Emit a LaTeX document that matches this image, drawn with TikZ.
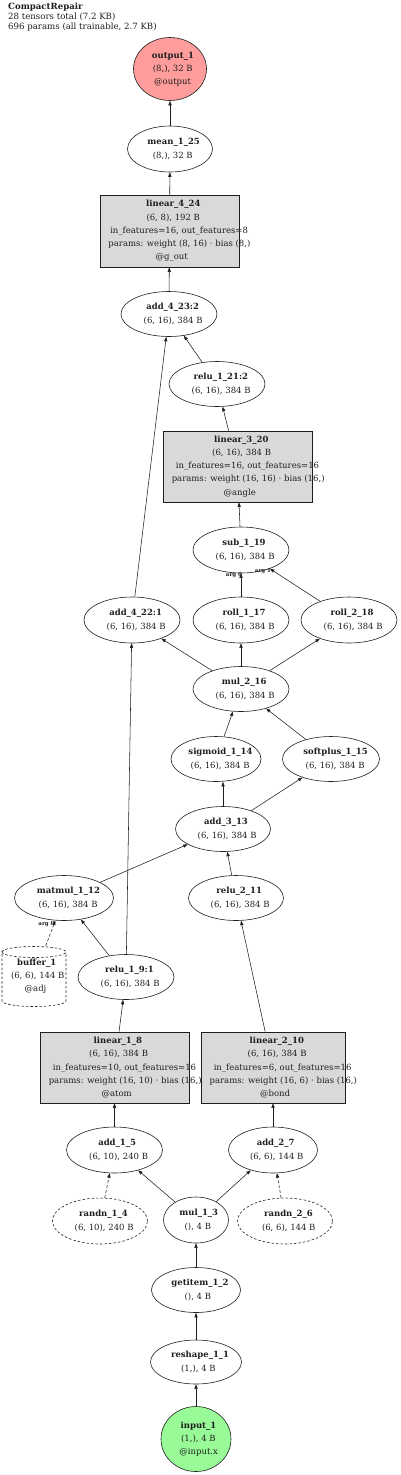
\documentclass[tikz,border=0pt]{standalone}
\usepackage{fontspec}
\setmainfont{DejaVu Serif}
\usetikzlibrary{shapes.geometric,arrows.meta}
\definecolor{outfill}{HTML}{FF9C9C}
\definecolor{infill}{HTML}{98FB98}
\definecolor{linfill}{HTML}{D9D9D9}
\definecolor{ink}{HTML}{1E1E1E}
\newcommand\gl[1]{\makebox[0.86\width][l]{#1}}
\newcommand\gn[7]{%
  \node[#2, minimum width=#5, minimum height=#6] (#1) at (#3,#4) {};
  \node[txt] (#1t) at (#1) {#7};}
\tikzset{
  txt/.style={align=center, inner sep=0pt, text=ink, font=\fontsize{8.5}{13.2}\selectfont},
  opnode/.style={ellipse, draw=ink, line width=0.6pt, inner sep=0pt},
  rnode/.style={ellipse, draw=ink, line width=0.6pt, inner sep=0pt, dashed, dash pattern=on 2.5pt off 2pt},
  outnode/.style={ellipse, draw=ink, fill=outfill, line width=0.6pt, inner sep=0pt},
  innode/.style={ellipse, draw=ink, fill=infill, line width=0.6pt, inner sep=0pt},
  linbox/.style={rectangle, draw=ink, fill=linfill, line width=0.6pt, inner sep=0pt},
  bufnode/.style={rectangle, inner sep=0pt},
  bufline/.style={draw=ink, line width=0.6pt, dashed, dash pattern=on 2.5pt off 2pt},
  edge/.style={draw=ink, line width=0.55pt, -{Triangle[length=4.5pt,width=3.2pt]}},
  dedge/.style={edge, dashed, dash pattern=on 3pt off 2pt},
  arglbl/.style={inner sep=0pt, text=ink, font=\fontsize{5.5}{6}\selectfont\bfseries},
}
\begin{document}
\begin{tikzpicture}[x=1pt,y=-1pt]
\useasboundingbox (0,0) rectangle (400,1475);
\node[anchor=north west, align=left, inner sep=0pt, text=ink, font=\fontsize{8.6}{10}\selectfont] (title) at (8,3)
  {\textbf{CompactRepair}\\28 tensors total (7.2 KB)\\696 params (all trainable, 2.7 KB)};

\gn{out}{outnode}{170}{69}{73}{63}{\gl{\textbf{output\_1}}\\\gl{(8,), 32 B}\\\gl{@output}}
\gn{mean}{opnode}{170}{149}{85}{46}{\gl{\textbf{mean\_1\_25}}\\\gl{(8,), 32 B}}
\gn{linf}{linbox}{169.5}{231}{139}{72}{\gl{\textbf{linear\_4\_24}}\\\gl{(6, 8), 192 B}\\\gl{in\_features=16, out\_features=8}\\\gl{params: weight (8, 16) · bias (8,)}\\\gl{@g\_out}}
\gn{addb}{opnode}{169}{314}{96}{45}{\gl{\textbf{add\_4\_23:2}}\\\gl{(6, 16), 384 B}}
\gn{reluc}{opnode}{217}{384}{96}{45}{\gl{\textbf{relu\_1\_21:2}}\\\gl{(6, 16), 384 B}}
\gn{linc}{linbox}{237.5}{466.5}{149}{71}{\gl{\textbf{linear\_3\_20}}\\\gl{(6, 16), 384 B}\\\gl{in\_features=16, out\_features=16}\\\gl{params: weight (16, 16) · bias (16,)}\\\gl{@angle}}
\gn{sub}{opnode}{241}{550}{96}{46}{\gl{\textbf{sub\_1\_19}}\\\gl{(6, 16), 384 B}}
\gn{adda}{opnode}{132}{620}{96}{46}{\gl{\textbf{add\_4\_22:1}}\\\gl{(6, 16), 384 B}}
\gn{rolla}{opnode}{241}{620}{96}{46}{\gl{\textbf{roll\_1\_17}}\\\gl{(6, 16), 384 B}}
\gn{rollb}{opnode}{349}{620}{96}{46}{\gl{\textbf{roll\_2\_18}}\\\gl{(6, 16), 384 B}}
\gn{mulb}{opnode}{241}{689}{96}{45}{\gl{\textbf{mul\_2\_16}}\\\gl{(6, 16), 384 B}}
\gn{sig}{opnode}{216}{759}{90}{45}{\gl{\textbf{sigmoid\_1\_14}}\\\gl{(6, 16), 384 B}}
\gn{soft}{opnode}{331}{759}{97}{45}{\gl{\textbf{softplus\_1\_15}}\\\gl{(6, 16), 384 B}}
\gn{addc}{opnode}{223}{829}{95}{45}{\gl{\textbf{add\_3\_13}}\\\gl{(6, 16), 384 B}}
\gn{matmul}{opnode}{64}{898}{99}{45}{\gl{\textbf{matmul\_1\_12}}\\\gl{(6, 16), 384 B}}
\gn{relub}{opnode}{236}{898}{95}{45}{\gl{\textbf{relu\_2\_11}}\\\gl{(6, 16), 384 B}}
\gn{buf}{bufnode}{34}{976.5}{64}{61}{\gl{\textbf{buffer\_1}}\\\gl{(6, 6), 144 B}\\\gl{@adj}}
\draw[bufline] (2,952) arc[start angle=180, end angle=360, x radius=32, y radius=5.5]
  arc[start angle=0, end angle=180, x radius=32, y radius=5.5] -- (2,1001)
  arc[start angle=180, end angle=0, x radius=32, y radius=5.5] -- (66,952);
\gn{relua}{opnode}{126}{977}{96}{45}{\gl{\textbf{relu\_1\_9:1}}\\\gl{(6, 16), 384 B}}
\gn{lina}{linbox}{114.5}{1067.5}{149}{71}{\gl{\textbf{linear\_1\_8}}\\\gl{(6, 16), 384 B}\\\gl{in\_features=10, out\_features=16}\\\gl{params: weight (16, 10) · bias (16,)}\\\gl{@atom}}
\gn{linb}{linbox}{273}{1067.5}{144}{71}{\gl{\textbf{linear\_2\_10}}\\\gl{(6, 16), 384 B}\\\gl{in\_features=6, out\_features=16}\\\gl{params: weight (16, 6) · bias (16,)}\\\gl{@bond}}
\gn{addd}{opnode}{114.5}{1150}{96}{46}{\gl{\textbf{add\_1\_5}}\\\gl{(6, 10), 240 B}}
\gn{adde}{opnode}{273}{1150}{89}{46}{\gl{\textbf{add\_2\_7}}\\\gl{(6, 6), 144 B}}
\gn{randa}{rnode}{100}{1221}{95}{46}{\gl{\textbf{randn\_1\_4}}\\\gl{(6, 10), 240 B}}
\gn{mula}{opnode}{196}{1220}{65}{46}{\gl{\textbf{mul\_1\_3}}\\\gl{(), 4 B}}
\gn{randb}{rnode}{285}{1221}{95}{46}{\gl{\textbf{randn\_2\_6}}\\\gl{(6, 6), 144 B}}
\gn{getitem}{opnode}{196}{1290}{89}{45}{\gl{\textbf{getitem\_1\_2}}\\\gl{(), 4 B}}
\gn{reshape}{opnode}{196}{1362}{91}{44}{\gl{\textbf{reshape\_1\_1}}\\\gl{(1,), 4 B}}
\gn{inp}{innode}{196}{1439}{70}{65}{\gl{\textbf{input\_1}}\\\gl{(1,), 4 B}\\\gl{@input.x}}

\node[arglbl] (lsa) at (234,575) {arg 0};
\node[arglbl] (lsb) at (263,571) {arg 1};
\node[arglbl] (lmm) at (46.5,924) {arg 0};

\draw[edge] (mean) -- (out);
\draw[edge] (linf) -- (mean);
\draw[edge] (addb) -- (linf);
\draw[edge] (adda) -- (addb);
\draw[edge] (reluc) -- (addb);
\draw[edge] (linc) -- (reluc);
\draw[edge] (sub) -- (linc);
\draw[edge] (rolla) -- (sub);
\draw[edge] (rollb) -- (sub);
\draw[edge] (mulb) -- (adda);
\draw[edge] (mulb) -- (rolla);
\draw[edge] (mulb) -- (rollb);
\draw[edge] (sig) -- (mulb);
\draw[edge] (soft) -- (mulb);
\draw[edge] (addc) -- (addc |- sig.south);
\draw[edge] (addc) -- (soft);
\draw[edge] (matmul) -- (addc);
\draw[edge] (relub) -- (addc);
\draw[dedge] (buf) -- (matmul);
\draw[edge] (relua) -- (matmul);
\draw[edge] (relua) -- (adda);
\draw[edge] (lina) -- (relua);
\draw[edge] (linb) -- (relub);
\draw[edge] (addd) -- (lina);
\draw[edge] (adde) -- (linb);
\draw[dedge] (randa) -- (addd);
\draw[edge] (mula) -- (addd);
\draw[edge] (mula) -- (adde);
\draw[dedge] (randb) -- (adde);
\draw[edge] (getitem) -- (mula);
\draw[edge] (reshape) -- (getitem);
\draw[edge] (inp) -- (reshape);
\end{tikzpicture}
\end{document}
